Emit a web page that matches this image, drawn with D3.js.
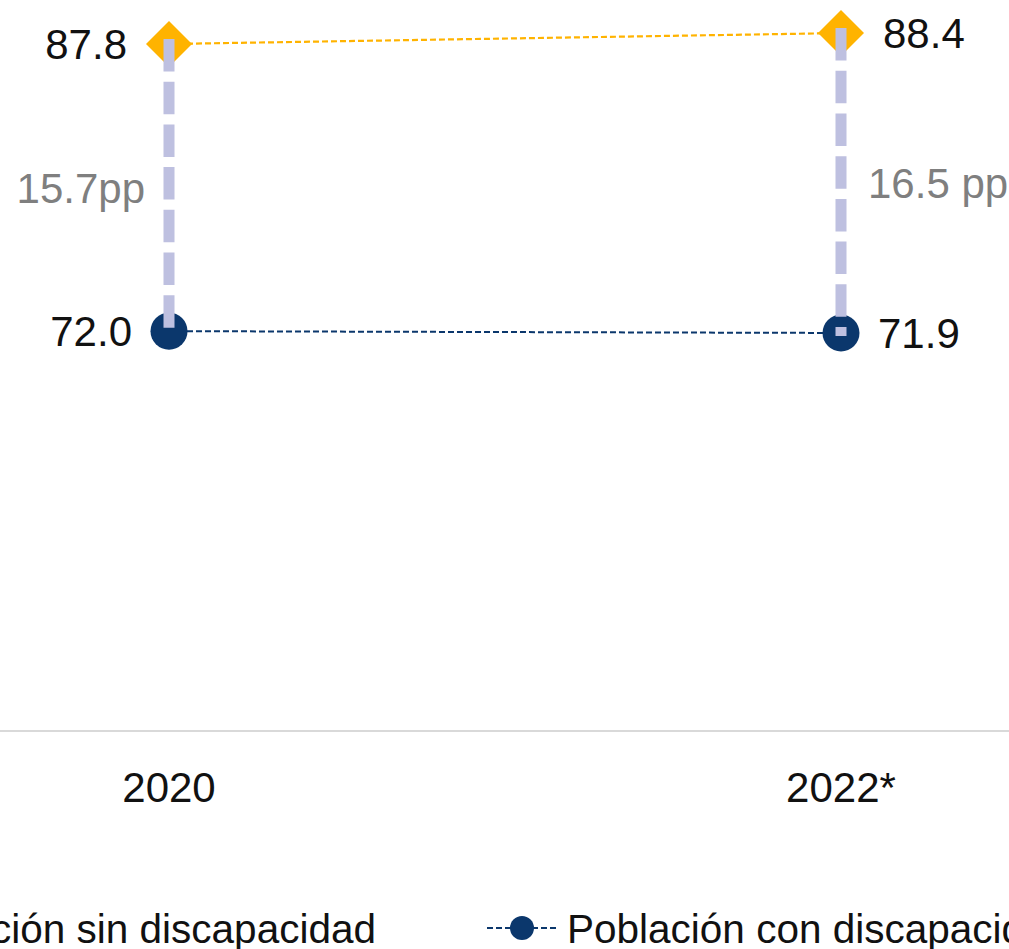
<!DOCTYPE html>
<html>
<head>
<meta charset="utf-8">
<script src="https://cdn.jsdelivr.net/npm/d3@7"></script>
<style>
  html, body { margin: 0; padding: 0; background: #ffffff; overflow: hidden; }
  svg { display: block; font-family: "Liberation Sans", Arial, Helvetica, sans-serif; }
</style>
</head>
<body>
<svg id="chart" width="1009" height="949"></svg>
<script>
// Years on the x axis
const years = ["2020", "2022*"];
// Population without disability
const sinDiscapacidad = [87.8, 88.4];
// Population with disability
const conDiscapacidad = [72.0, 71.9];
// Gap labels between the two series (percentage points)
const brechaLabels = ["15.7pp", "16.5 pp"];
// Legend entries
const seriesNames = ["Población sin discapacidad", "Población con discapacidad"];

const W = 1009, H = 949;
const colYellow = "#FFB300";
const colNavy = "#0B376C";
const colGap = "#BEC0E0";
const colGrayText = "#7F7F7F";
const colText = "#111111";
const fontSize = 42;
const legendFontSize = 40.5;

const svg = d3.select("#chart");

const x = d3.scalePoint().domain(years).range([169, 841]);
const y = d3.scaleLinear().domain([50, 90]).range([731, 4]);

// Baseline axis across the full width
svg.append("line")
  .attr("x1", 0).attr("x2", W)
  .attr("y1", y(50)).attr("y2", y(50))
  .attr("stroke", "#D9D9D9").attr("stroke-width", 2);

// Year labels
svg.append("g").selectAll("text")
  .data(years).join("text")
  .attr("x", d => x(d))
  .attr("y", 802)
  .attr("text-anchor", "middle")
  .attr("font-size", fontSize)
  .attr("fill", colText)
  .text(d => d);

const rowsHigh = years.map((yr, i) => ({ yr, v: sinDiscapacidad[i] }));
const rowsLow = years.map((yr, i) => ({ yr, v: conDiscapacidad[i] }));

const line = d3.line().x(d => x(d.yr)).y(d => y(d.v));

// Dashed connectors for each series
svg.append("path").datum(rowsHigh)
  .attr("d", line).attr("fill", "none")
  .attr("stroke", colYellow).attr("stroke-width", 2.2)
  .attr("stroke-dasharray", "6,3");
svg.append("path").datum(rowsLow)
  .attr("d", line).attr("fill", "none")
  .attr("stroke", colNavy).attr("stroke-width", 2)
  .attr("stroke-dasharray", "6,3");

// Markers
const diamond = d3.symbol().type(d3.symbolSquare).size(1060);
svg.append("g").selectAll("path")
  .data(rowsHigh).join("path")
  .attr("d", diamond)
  .attr("transform", d => `translate(${x(d.yr)},${y(d.v)}) rotate(45)`)
  .attr("fill", colYellow);

svg.append("g").selectAll("circle")
  .data(rowsLow).join("circle")
  .attr("cx", d => x(d.yr)).attr("cy", d => y(d.v))
  .attr("r", 18.5)
  .attr("fill", colNavy);

// Gap bars drawn over the markers
svg.append("g").selectAll("line")
  .data(years).join("line")
  .attr("x1", d => x(d)).attr("x2", d => x(d))
  .attr("y1", (d, i) => y(sinDiscapacidad[i]) - 5)
  .attr("y2", (d, i) => y(conDiscapacidad[i]) + 3)
  .attr("stroke", colGap).attr("stroke-width", 11)
  .attr("stroke-dasharray", "32.5,10.2");

// Value labels: left of the first year, right of the last
function valueLabels(rows, offset) {
  svg.append("g").selectAll("text")
    .data(rows).join("text")
    .attr("x", (d, i) => i === 0 ? x(d.yr) - offset : x(d.yr) + offset)
    .attr("y", d => y(d.v))
    .attr("dy", "0.36em")
    .attr("text-anchor", (d, i) => i === 0 ? "end" : "start")
    .attr("font-size", fontSize)
    .attr("fill", colText)
    .text(d => d.v.toFixed(1));
}
valueLabels(rowsHigh, 42);
valueLabels(rowsLow, 37);

// Gap labels at the midpoint of each bar
svg.append("g").selectAll("text")
  .data(years).join("text")
  .attr("x", (d, i) => i === 0 ? x(d) - 24 : x(d) + 27)
  .attr("y", (d, i) => (y(sinDiscapacidad[i]) + y(conDiscapacidad[i])) / 2)
  .attr("dy", "0.36em")
  .attr("text-anchor", (d, i) => i === 0 ? "end" : "start")
  .attr("font-size", fontSize)
  .attr("fill", colGrayText)
  .text((d, i) => brechaLabels[i]);

// Legend
const legY = 928;
const leg1 = svg.append("g");
leg1.append("text")
  .attr("x", 376).attr("y", legY).attr("dy", "0.36em")
  .attr("text-anchor", "end")
  .attr("font-size", legendFontSize).attr("fill", colText)
  .text(seriesNames[0]);
// marker for the first entry sits to the left of its text
const leg1TextW = leg1.select("text").node().getComputedTextLength();
const leg1X = 376 - leg1TextW - 45;
leg1.append("line")
  .attr("x1", leg1X - 35).attr("x2", leg1X + 35)
  .attr("y1", legY).attr("y2", legY)
  .attr("stroke", colYellow).attr("stroke-width", 2).attr("stroke-dasharray", "6,3");
leg1.append("path")
  .attr("d", d3.symbol().type(d3.symbolSquare).size(300))
  .attr("transform", `translate(${leg1X},${legY}) rotate(45)`)
  .attr("fill", colYellow);

const leg2 = svg.append("g");
leg2.append("line")
  .attr("x1", 487).attr("x2", 557)
  .attr("y1", legY).attr("y2", legY)
  .attr("stroke", colNavy).attr("stroke-width", 2).attr("stroke-dasharray", "6,3");
leg2.append("circle")
  .attr("cx", 522).attr("cy", legY).attr("r", 12)
  .attr("fill", colNavy);
leg2.append("text")
  .attr("x", 567).attr("y", legY).attr("dy", "0.36em")
  .attr("font-size", legendFontSize).attr("fill", colText)
  .text(seriesNames[1]);
</script>
</body>
</html>
